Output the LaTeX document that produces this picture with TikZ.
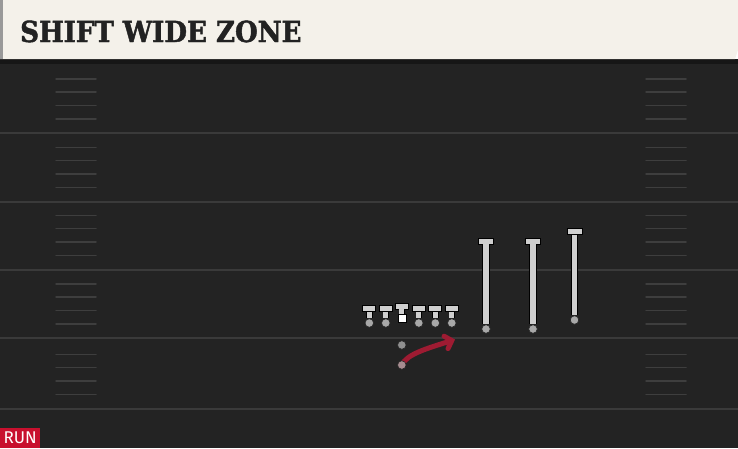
\documentclass[tikz,border=0pt]{standalone}
\usepackage{fontspec}
\usepackage{xcolor}
\usepackage{tikz}
\usetikzlibrary{arrows.meta}
\usetikzlibrary{positioning}
\newfontfamily\titlefont{DejaVu Serif Condensed}[BoldFeatures={FakeBold=1.5}]
\newfontfamily\runfont{Fira Sans}
\definecolor{turf}{HTML}{232323}
\definecolor{turfdark}{HTML}{161616}
\definecolor{yardline}{HTML}{3A3A3A}
\definecolor{hashline}{HTML}{3E3E3E}
\definecolor{cream}{HTML}{F4F1EA}
\definecolor{ink}{HTML}{222222}
\definecolor{runred}{HTML}{C8102E}
\definecolor{pathred}{HTML}{9E1B32}
\definecolor{bone}{HTML}{CFCFCF}
\definecolor{knob}{HTML}{A8A8A8}

\begin{document}
\begin{tikzpicture}[x=1pt,y=-1pt,>=Stealth,auto,node distance=16.5pt]
 \tikzstyle{foot}=[draw=black!85, line width=0.6pt, circle, inner sep=0pt, minimum size=8.5pt, fill=knob]
 \tikzstyle{back}=[foot, minimum size=8.5pt, fill=knob!85!black]
 \tikzstyle{snap}=[draw=black, line width=0.6pt, rectangle, inner sep=0pt, minimum size=8pt, fill=white]
 \tikzstyle{bar}=[draw=black, line width=0.8pt, rectangle, inner sep=0pt, minimum width=13pt, minimum height=6pt, fill=bone]
 \tikzstyle{wbar}=[bar, minimum width=15pt]
 \tikzstyle{stem}=[draw=black, line width=6.6pt, postaction={draw=bone, line width=4.8pt}]
 \tikzstyle{wstem}=[draw=black, line width=7.6pt, postaction={draw=bone, line width=5.6pt}]
 \tikzstyle{run}=[draw=pathred, line width=5pt, line cap=round, -{Straight Barb[length=6pt,width=13pt,line cap=round]}]
 \useasboundingbox (0,0) rectangle (738,448);
 % field
 \fill[turf] (0,59) rectangle (738,448);
 \fill[turfdark] (0,59) rectangle (738,64);
 \foreach \y in {133,201.5,269.5,338,408.5} {
   \draw[yardline, line width=2pt] (0,\y) -- (738,\y);
   \foreach \d in {54,41,27.5,14} {
     \draw[hashline, line width=1.5pt, line cap=round] (56,\y-\d) -- (96,\y-\d);
     \draw[hashline, line width=1.5pt, line cap=round] (646,\y-\d) -- (686,\y-\d);
   }
 }
 % header
 \fill[cream] (0,0) -- (738,0) -- (738,50) -- (735,59) -- (0,59) -- cycle;
 \fill[black!40] (0,0) rectangle (2.5,59);
 \node[anchor=base west, inner sep=0pt, text=ink, font=\titlefont\bfseries\fontsize{29}{29}\selectfont] (title) at (20,42) {SHIFT WIDE ZONE};
 % label
 \node[fill=runred, text=white, inner sep=0pt, minimum width=40pt, minimum height=20pt, anchor=south west, font=\runfont\fontsize{17}{17}\selectfont] (run) at (0,448) {RUN};

 % offensive line
 \node[foot] (LT) at (369.3,323) {};
 \node[foot] (LG) [right of=LT] {};
 \node[foot] (RG) [right of=LG, node distance=33pt] {};
 \node[foot] (RT) [right of=RG] {};
 \node[foot] (TE) [right of=RT] {};
 \node[snap] (C) at (401.8,318) {};
 \node[bar] (LTbar) [above of=LT, node distance=14.5pt] {};
 \node[bar] (LGbar) [above of=LG, node distance=14.5pt] {};
 \node[bar] (Cbar) at (401.8,306) {};
 \node[bar] (RGbar) [above of=RG, node distance=14.5pt] {};
 \node[bar] (RTbar) [above of=RT, node distance=14.5pt] {};
 \node[bar] (TEbar) [above of=TE, node distance=14.5pt] {};
 % receivers
 \node[foot] (WR1) at (486,329) {};
 \node[foot] (WR2) at (533,329) {};
 \node[foot] (WR3) at (574.5,320) {};
 \node[wbar] (WR1bar) at (486,241) {};
 \node[wbar] (WR2bar) at (533,241) {};
 \node[wbar] (WR3bar) at (574.5,231.5) {};
 % backfield
 \node[back] (QB) at (401.8,345) {};
 \coordinate (RBend) at (455,339.5);
 \draw[run] (401.8,365) .. controls +(5,-11) and +(-28,9) .. (RBend);
 \node[back, fill=knob!80!pathred] (RB) at (401.8,365) {};

 \path
  (LTbar) edge[stem] (LT)
  (LGbar) edge[stem] (LG)
  (Cbar) edge[stem] (C)
  (RGbar) edge[stem] (RG)
  (RTbar) edge[stem] (RT)
  (TEbar) edge[stem] (TE)
  (WR1bar) edge[wstem] (WR1)
  (WR2bar) edge[wstem] (WR2)
  (WR3bar) edge[wstem] (WR3);
\end{tikzpicture}
\end{document}
